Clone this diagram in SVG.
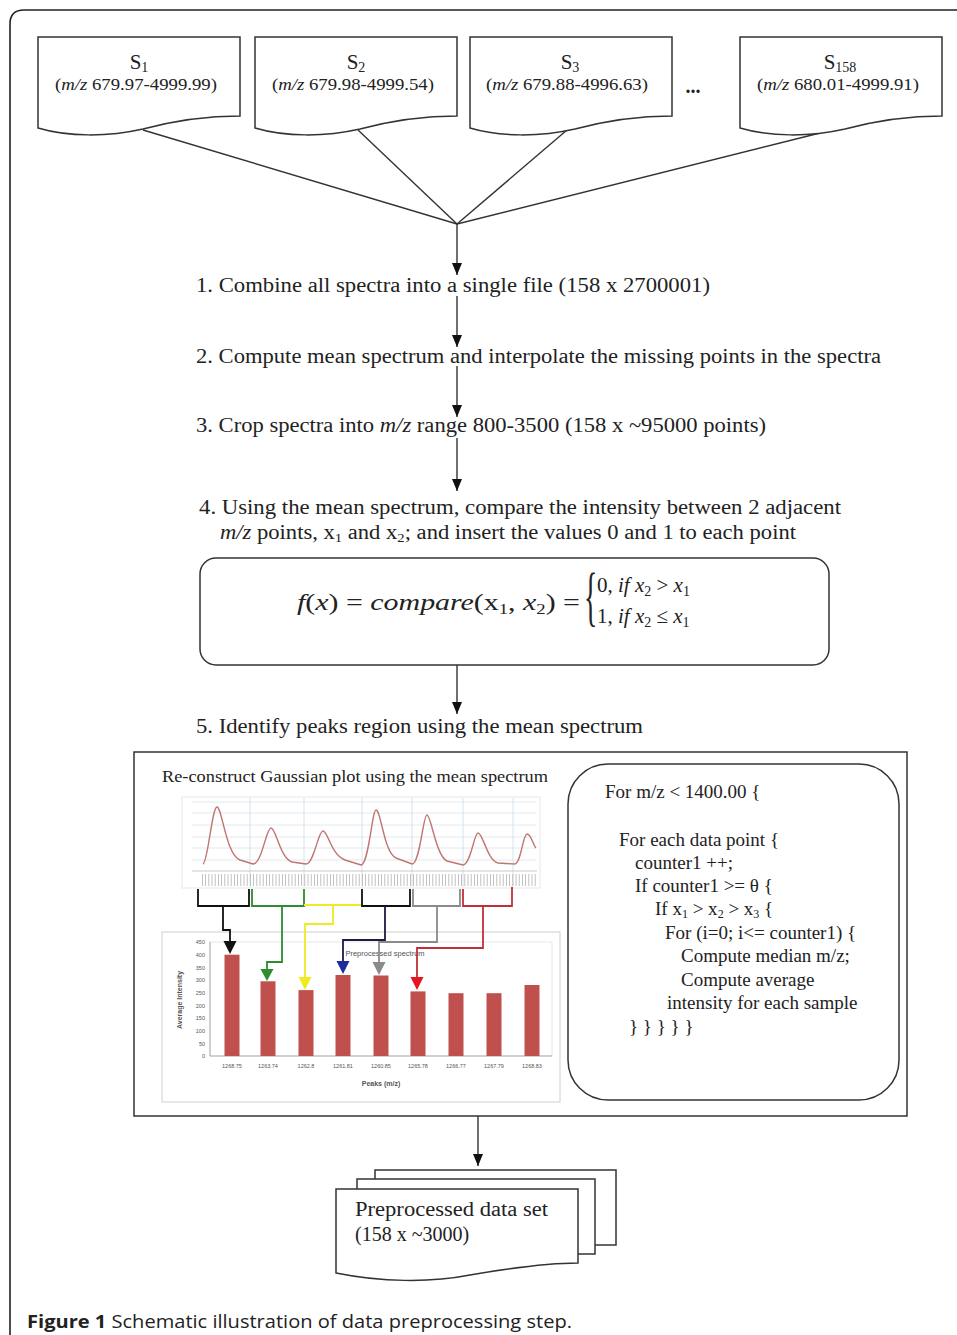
<svg xmlns="http://www.w3.org/2000/svg" width="957" height="1335" viewBox="0 0 957 1335">
<defs>
<style>
.t{font-family:"Liberation Serif","Times New Roman",serif;fill:#222}
.step{font-size:20px}
.code{font-size:19px}
.ln{stroke:#333;stroke-width:1.4;fill:none}
.box{fill:#fff;stroke:#333;stroke-width:1.5}
.doc{fill:#fff;stroke:#333;stroke-width:1.5}
.sm{font-family:"Liberation Sans",Arial,sans-serif;fill:#555}
.bar{fill:#c0504d}
.grid{stroke:#dde4ec;stroke-width:0.8}
</style>
<marker id="arr" viewBox="0 0 12 10" refX="12" refY="5" markerWidth="12" markerHeight="10" markerUnits="userSpaceOnUse" orient="auto">
<path d="M0,0 L12,5 L0,10 z" fill="#111"/>
</marker>
<path id="docshape" d="M0,37 H202 V116 C165,116 135,121 105,129 C70,137 30,137 0,128 Z"/>
</defs>
<rect width="957" height="1335" fill="#fff"/>
<path d="M10,1335 V24 Q10,10 24,10 H957" fill="none" stroke="#222" stroke-width="1.6"/>

<g id="connectors">
<line class="ln" x1="143" y1="130" x2="457" y2="224"/>
<line class="ln" x1="358" y1="130" x2="457" y2="224"/>
<line class="ln" x1="567" y1="130" x2="457" y2="224"/>
<line class="ln" x1="820" y1="133" x2="457" y2="224"/>
<line class="ln" x1="457" y1="224" x2="457" y2="275" marker-end="url(#arr)"/>
<line class="ln" x1="457" y1="296" x2="457" y2="347" marker-end="url(#arr)"/>
<line class="ln" x1="457" y1="366" x2="457" y2="417" marker-end="url(#arr)"/>
<line class="ln" x1="457" y1="438" x2="457" y2="491" marker-end="url(#arr)"/>
<line class="ln" x1="457" y1="665" x2="457" y2="714" marker-end="url(#arr)"/>
<line class="ln" x1="478" y1="1116" x2="478" y2="1166" marker-end="url(#arr)"/>
</g>

<g id="s1">
<use href="#docshape" class="doc" transform="translate(38,0)"/>
<text class="t" x="139" y="69" text-anchor="middle" font-size="21">S<tspan font-size="14" dy="3">1</tspan></text>
<text class="t" x="55" y="90" font-size="17.5" textLength="162" lengthAdjust="spacingAndGlyphs">(<tspan font-style="italic">m/z</tspan> 679.97-4999.99)</text>
</g>
<g id="s2">
<use href="#docshape" class="doc" transform="translate(255,0)"/>
<text class="t" x="356" y="69" text-anchor="middle" font-size="21">S<tspan font-size="14" dy="3">2</tspan></text>
<text class="t" x="272" y="90" font-size="17.5" textLength="162" lengthAdjust="spacingAndGlyphs">(<tspan font-style="italic">m/z</tspan> 679.98-4999.54)</text>
</g>
<g id="s3">
<use href="#docshape" class="doc" transform="translate(470,0)"/>
<text class="t" x="570" y="69" text-anchor="middle" font-size="21">S<tspan font-size="14" dy="3">3</tspan></text>
<text class="t" x="486" y="90" font-size="17.5" textLength="162" lengthAdjust="spacingAndGlyphs">(<tspan font-style="italic">m/z</tspan> 679.88-4996.63)</text>
</g>
<g id="dots">
<text class="t" x="693" y="93" text-anchor="middle" font-size="20" font-weight="bold">...</text>
</g>
<g id="s158">
<use href="#docshape" class="doc" transform="translate(740,0)"/>
<text class="t" x="840" y="69" text-anchor="middle" font-size="21">S<tspan font-size="14" dy="3">158</tspan></text>
<text class="t" x="757" y="90" font-size="17.5" textLength="162" lengthAdjust="spacingAndGlyphs">(<tspan font-style="italic">m/z</tspan> 680.01-4999.91)</text>
</g>

<g id="step1">
<text class="t step" x="196" y="292" textLength="514" lengthAdjust="spacingAndGlyphs">1. Combine all spectra into a single  file (158 x 2700001)</text>
</g>
<g id="step2">
<text class="t step" x="196" y="363" textLength="685" lengthAdjust="spacingAndGlyphs">2. Compute mean spectrum and interpolate the missing points in the spectra</text>
</g>
<g id="step3">
<text class="t step" x="196" y="432" textLength="570" lengthAdjust="spacingAndGlyphs">3. Crop spectra into <tspan font-style="italic">m/z</tspan> range 800-3500 (158 x ~95000 points)</text>
</g>
<g id="step4">
<text class="t step" x="199" y="514" textLength="642" lengthAdjust="spacingAndGlyphs">4. Using  the mean spectrum, compare the intensity between 2 adjacent</text>
<text class="t step" x="220" y="539" textLength="576" lengthAdjust="spacingAndGlyphs"><tspan font-style="italic">m/z</tspan> points, x<tspan font-size="13" dy="3">1</tspan><tspan dy="-3"> and x</tspan><tspan font-size="13" dy="3">2</tspan><tspan dy="-3">; and insert the values 0 and 1 to each point</tspan></text>
</g>

<g id="formula">
<rect class="box" x="200" y="558" width="629" height="107" rx="16"/>
<text class="t" x="297" y="610" font-size="24" textLength="283" lengthAdjust="spacingAndGlyphs"><tspan font-style="italic">f</tspan>(<tspan font-style="italic">x</tspan>) = <tspan font-style="italic">compare</tspan>(x<tspan font-size="15" dy="4">1</tspan><tspan dy="-4">, </tspan><tspan font-style="italic">x</tspan><tspan font-size="15" dy="4">2</tspan><tspan dy="-4">) =</tspan></text>
<text class="t" transform="translate(584,618) scale(0.42,1)" font-size="66">{</text>
<text class="t" x="597" y="592" font-size="21">0, <tspan font-style="italic">if x</tspan><tspan font-size="14" dy="4">2</tspan><tspan dy="-4"> &gt;  </tspan><tspan font-style="italic">x</tspan><tspan font-size="14" dy="4">1</tspan></text>
<text class="t" x="597" y="623" font-size="21">1, <tspan font-style="italic">if x</tspan><tspan font-size="14" dy="4">2</tspan><tspan dy="-4"> ≤  </tspan><tspan font-style="italic">x</tspan><tspan font-size="14" dy="4">1</tspan></text>
</g>

<g id="step5">
<text class="t step" x="196" y="733" textLength="447" lengthAdjust="spacingAndGlyphs">5. Identify peaks region using the mean spectrum</text>
</g>

<g id="peaks">
<rect x="134" y="752" width="773" height="364" fill="#fff" stroke="#333" stroke-width="1.5"/>
<text class="t" x="162" y="782" font-size="17" textLength="386" lengthAdjust="spacingAndGlyphs">Re-construct Gaussian plot using the mean spectrum</text>
<rect x="182" y="797" width="358" height="91" fill="#fff" stroke="#e2e2e2" stroke-width="0.8"/>
<g class="grid">
<line x1="192" y1="802" x2="536" y2="802"/>
<line x1="192" y1="813" x2="536" y2="813"/>
<line x1="192" y1="825" x2="536" y2="825"/>
<line x1="192" y1="837" x2="536" y2="837"/>
<line x1="192" y1="848" x2="536" y2="848"/>
<line x1="192" y1="860" x2="536" y2="860"/>
<line x1="250" y1="798" x2="250" y2="887" stroke="#c9dcea"/>
<line x1="304" y1="798" x2="304" y2="887" stroke="#c9dcea"/>
<line x1="362" y1="798" x2="362" y2="887" stroke="#c9dcea"/>
<line x1="412" y1="798" x2="412" y2="887" stroke="#c9dcea"/>
<line x1="463" y1="798" x2="463" y2="887" stroke="#c9dcea"/>
<line x1="513" y1="798" x2="513" y2="887" stroke="#c9dcea"/>
</g>
<line x1="192" y1="871" x2="537" y2="871" stroke="#bbb" stroke-width="0.8"/>
<line x1="202" y1="880" x2="536" y2="880" stroke="#b4b4b4" stroke-width="12" stroke-dasharray="0.8 2.4"/>
<path d="M203,864 C208,862 212,807 217,807 C222,807 226,855 240,860 L253,864 C262,864 266,828 271,828 C276,828 280,858 292,862 L306,864 C314,864 318,831 323,831 C328,831 331,855 345,860 L361,865 C369,864 372,810 376,810 C381,810 384,853 396,858 L412,864 C420,864 423,815 427,815 C431,815 436,856 447,861 L463,865 C471,864 474,833 478,833 C483,833 487,860 498,863 L515,864 C521,863 523,834 527,834 C531,834 533,845 536,848" fill="none" stroke="#c07572" stroke-width="1.4"/>
<rect x="162" y="932" width="398" height="170" fill="#fff" stroke="#d0d0d0" stroke-width="1"/>
<rect x="210" y="942" width="342" height="114" fill="none" stroke="#e0e0e0" stroke-width="0.8"/>
<line x1="210" y1="942" x2="210" y2="1056" stroke="#999" stroke-width="0.8"/>
<line x1="210" y1="1056" x2="552" y2="1056" stroke="#999" stroke-width="0.8"/>
<g class="sm" font-size="5.5" text-anchor="end">
<text x="205" y="944">450</text><text x="205" y="957">400</text><text x="205" y="970">350</text><text x="205" y="982">300</text><text x="205" y="995">250</text><text x="205" y="1008">200</text><text x="205" y="1020">150</text><text x="205" y="1033">100</text><text x="205" y="1046">50</text><text x="205" y="1058">0</text>
</g>
<text class="sm" transform="translate(182,1000) rotate(-90)" font-size="7" font-weight="bold" text-anchor="middle">Average Intensity</text>
<text class="sm" x="385" y="956" font-size="7.5" text-anchor="middle" fill="#444">Preprocessed spectrum</text>
<rect class="bar" x="224.5" y="954.7" width="15" height="101.3"/>
<rect class="bar" x="260.5" y="981.3" width="15" height="74.7"/>
<rect class="bar" x="298.5" y="990.1" width="15" height="65.9"/>
<rect class="bar" x="335.5" y="975" width="15" height="81"/>
<rect class="bar" x="373.5" y="975.5" width="15" height="80.5"/>
<rect class="bar" x="410.5" y="991.4" width="15" height="64.6"/>
<rect class="bar" x="448.5" y="993.2" width="15" height="62.8"/>
<rect class="bar" x="486.5" y="993.2" width="15" height="62.8"/>
<rect class="bar" x="524.5" y="985" width="15" height="71"/>
<g class="sm" font-size="5.5" text-anchor="middle">
<text x="232" y="1068">1268.75</text><text x="268" y="1068">1263.74</text><text x="306" y="1068">1262.8</text><text x="343" y="1068">1261.81</text><text x="381" y="1068">1260.85</text><text x="418" y="1068">1265.78</text><text x="456" y="1068">1266.77</text><text x="494" y="1068">1267.79</text><text x="532" y="1068">1268.83</text>
</g>
<text class="sm" x="381" y="1086" font-size="7" font-weight="bold" text-anchor="middle">Peaks (m/z)</text>
<g fill="none" stroke-width="1.8">
<path d="M198,889 V906 H249 V889" stroke="#111"/>
<path d="M223,906 V930 H230 V942" stroke="#111"/>
<path d="M252,889 V906 H304 V889" stroke="#2e8b2e"/>
<path d="M282,906 V962 H267 V970" stroke="#2e8b2e"/>
<path d="M304,905 H362" stroke="#ecec20"/>
<path d="M333,905 V924 H305 V978" stroke="#ecec20"/>
<path d="M362,889 V906 H410 V889" stroke="#111"/>
<path d="M385,906 V940 H343 V962" stroke="#1c1c40"/>
<path d="M413,889 V906 H460 V889" stroke="#8a8a8a"/>
<path d="M437,906 V942 H379 V963" stroke="#8a8a8a"/>
<path d="M463,889 V906 H512 V887" stroke="#c0303a"/>
<path d="M483,906 V948 H417 V978" stroke="#c0303a"/>
</g>
<polygon points="223.5,941 236.5,941 230,954" fill="#111"/>
<polygon points="260.5,969 273.5,969 267,981" fill="#2e8b2e"/>
<polygon points="298.5,977 311.5,977 305,990" fill="#ecec20"/>
<polygon points="336.5,961 349.5,961 343,974" fill="#1f2b9a"/>
<polygon points="372.5,962 385.5,962 379,975" fill="#8a8a8a"/>
<polygon points="410.5,977 423.5,977 417,990" fill="#e8141e"/>
</g>

<g id="algorithm">
<rect class="box" x="568" y="764" width="331" height="336" rx="40"/>
<text class="t code" x="605" y="798">For m/z &lt; 1400.00 {</text>
<text class="t code" x="619" y="846">For each data point {</text>
<text class="t code" x="635" y="869">counter1 ++;</text>
<text class="t code" x="635" y="892">If counter1 &gt;= θ {</text>
<text class="t code" x="655" y="915">If x<tspan font-size="12" dy="3">1</tspan><tspan dy="-3"> &gt; x</tspan><tspan font-size="12" dy="3">2</tspan><tspan dy="-3"> &gt; x</tspan><tspan font-size="12" dy="3">3</tspan><tspan dy="-3"> {</tspan></text>
<text class="t code" x="665" y="939">For (i=0; i&lt;= counter1) {</text>
<text class="t code" x="681" y="962">Compute median m/z;</text>
<text class="t code" x="681" y="986">Compute average</text>
<text class="t code" x="667" y="1009">intensity for each sample</text>
<text class="t code" x="629" y="1033">} } } } }</text>
</g>

<g id="output">
<rect class="doc" x="375" y="1170" width="241" height="75"/>
<rect class="doc" x="357" y="1179" width="238" height="75"/>
<path class="doc" d="M336,1189 H578 V1263 C545,1263 505,1269 470,1275 C430,1283 380,1282 336,1273 Z"/>
<text class="t" x="355" y="1216" font-size="20" textLength="193" lengthAdjust="spacingAndGlyphs">Preprocessed data set</text>
<text class="t" x="355" y="1241" font-size="20">(158 x ~3000)</text>
</g>

<g id="caption">
<text x="27" y="1328" font-family="'Open Sans','Noto Sans',sans-serif" font-size="18.5" fill="#222" textLength="545" lengthAdjust="spacingAndGlyphs"><tspan font-weight="bold">Figure 1</tspan> Schematic illustration of data preprocessing step.</text>
</g>
</svg>
